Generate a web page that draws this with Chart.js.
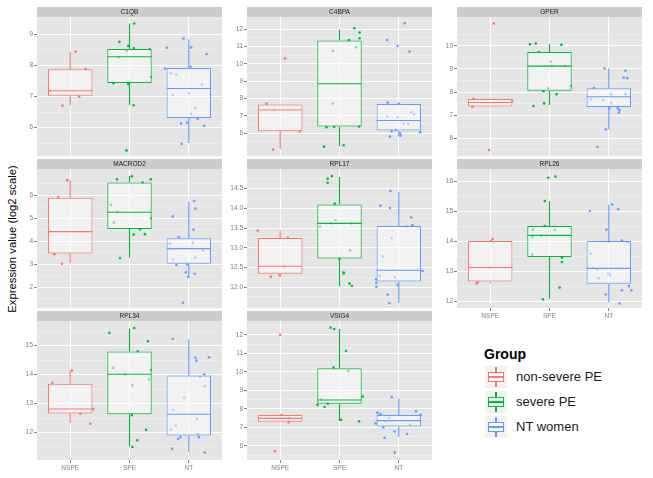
<!DOCTYPE html>
<html>
<head>
<meta charset="utf-8">
<script src="https://cdn.jsdelivr.net/npm/chart.js@4.4.0/dist/chart.umd.min.js"></script>
<style>
  html, body { margin: 0; padding: 0; background: #fff; width: 653px; height: 478px; overflow: hidden; font-family: "Liberation Sans", Arial, sans-serif; }
  canvas.panel { position: absolute; }
  #ylab { position: absolute; left: 12px; top: 239px; transform: translate(-50%, -50%) rotate(-90deg); font-size: 11.3px; white-space: nowrap; color: #000; }
  #legTitle { position: absolute; left: 484px; top: 346px; font-size: 14px; font-weight: bold; color: #000; }
  .key { position: absolute; width: 22px; height: 22px; background: #F2F2F2; }
  .key i { position: absolute; display: block; box-sizing: border-box; }
  .key .bx { left: 3px; top: 6px; width: 16px; height: 10px; border: 1.3px solid; background: #F8F8F8; }
  .key .md { left: 3px; top: 10.4px; width: 16px; height: 1.3px; }
  .key .wt { left: 10.4px; top: 1px; width: 1.3px; height: 5px; }
  .key .wb { left: 10.4px; top: 16px; width: 1.3px; height: 5px; }
  .legLabel { position: absolute; left: 516px; font-size: 13px; color: #1A1A1A; line-height: 22px; white-space: nowrap; }
</style>
</head>
<body>
<div id="ylab">Expression value (log2 scale)</div>
<div id="legTitle">Group</div>
<script>
const genes = ['C1QB', 'C4BPA', 'GPER', 'MACROD2', 'RPL17', 'RPL26', 'RPL34', 'VSIG4'];
const groups = ['NSPE', 'SPE', 'NT'];
const groupNames = ['non-severe PE', 'severe PE', 'NT women'];

// box stats per group: [lower whisker, q1, median, q3, upper whisker]
const c1qbBox = [[6.72, 7.03, 7.19, 7.88, 8.44], [6.72, 7.44, 8.28, 8.53, 9.35], [5.51, 6.31, 7.26, 7.92, 8.84]];
const c4bpaBox = [[5.08, 6.10, 7.33, 7.65, null], [5.23, 6.37, 8.85, 11.35, 12.0], [5.79, 6.14, 6.72, 7.68, 7.76]];
const gperBox = [[null, 7.38, 7.55, 7.70, null], [7.44, 8.06, 9.12, 9.73, 10.07], [6.39, 7.35, 7.80, 8.16, 9.02]];
const macrod2Box = [[3.03, 3.46, 4.41, 5.88, 6.64], [3.28, 4.52, 5.25, 6.54, 6.83], [2.45, 3.01, 3.67, 4.12, 5.71]];
const rpl17Box = [[12.26, 12.34, 12.53, 13.25, 13.44], [12.03, 12.73, 13.62, 14.10, 14.80], [11.60, 12.14, 12.43, 13.55, 14.42]];
const rpl26Box = [[12.60, 12.66, 13.13, 14.01, null], [12.09, 13.48, 14.20, 14.51, 15.34], [11.96, 12.59, 13.10, 14.01, 15.23]];
const rpl34Box = [[12.33, 12.66, 12.81, 13.68, 14.14], [11.52, 12.63, 14.01, 14.80, 15.59], [11.33, 11.90, 12.63, 13.97, 15.22]];
const vsig4Box = [[null, 7.30, 7.48, 7.66, null], [7.41, 8.27, 8.48, 10.20, 12.32], [6.48, 7.04, 7.36, 7.66, 8.55]];

// samples per group: [jitter, value]
const c1qbPts = [
  [[0.09, 8.45], [0.26, 7.89], [0.15, 7.00], [-0.13, 6.71], [-0.34, 7.19]],
  [[0.08, 9.35], [-0.17, 8.76], [-0.02, 8.63], [-0.05, 8.47], [0.07, 8.55], [0.34, 8.52], [-0.18, 8.27], [0.36, 7.63], [-0.27, 7.43], [-0.02, 7.40], [0.07, 6.72], [-0.05, 5.27]],
  [[-0.09, 8.87], [-0.37, 8.57], [0.04, 8.58], [0.30, 8.37], [-0.40, 7.90], [-0.30, 7.75], [-0.21, 7.71], [0.22, 7.39], [-0.27, 7.05], [0.0, 7.11], [0.11, 6.63], [0.04, 6.45], [-0.13, 6.13], [-0.03, 6.16], [0.15, 6.29], [0.26, 6.06], [-0.12, 5.48], [0.03, 7.96]]
];
const c4bpaPts = [
  [[0.08, 10.31], [-0.23, 7.69], [-0.10, 7.33], [0.33, 6.10], [-0.12, 5.04]],
  [[0.25, 12.06], [0.34, 11.81], [0.34, 11.48], [0.16, 11.37], [-0.11, 10.75], [0.28, 10.96], [-0.11, 7.71], [-0.22, 6.33], [-0.09, 6.35], [0.33, 6.38], [-0.26, 5.21], [0.07, 5.29]],
  [[0.10, 12.35], [-0.20, 11.38], [-0.02, 11.04], [0.18, 10.71], [-0.19, 7.76], [0.0, 7.68], [-0.19, 6.95], [-0.02, 6.91], [0.21, 7.20], [0.26, 7.09], [0.08, 6.53], [0.16, 6.53], [0.36, 6.05], [-0.12, 6.10], [-0.05, 6.18], [0.02, 5.99], [0.03, 5.85], [-0.15, 5.79]]
];
const gperPts = [
  [[0.06, 10.96], [-0.28, 7.71], [-0.30, 7.37], [0.37, 7.63], [-0.02, 5.50]],
  [[-0.33, 10.06], [-0.23, 10.10], [0.20, 10.04], [-0.18, 9.73], [0.02, 9.32], [0.04, 9.12], [0.26, 9.11], [0.36, 8.26], [-0.02, 8.16], [-0.10, 8.04], [0.12, 7.91], [-0.09, 7.51], [-0.27, 7.40]],
  [[-0.07, 9.02], [0.28, 8.92], [0.25, 8.63], [0.31, 8.60], [-0.25, 8.17], [-0.30, 7.68], [-0.09, 7.65], [0.04, 7.91], [0.04, 7.51], [0.28, 7.91], [0.15, 7.30], [0.18, 7.22], [0.17, 7.11], [0.01, 7.30], [-0.05, 6.39], [-0.19, 5.63]]
];
const macrod2Pts = [
  [[-0.05, 6.64], [-0.20, 5.91], [0.16, 4.41], [-0.27, 3.43], [-0.14, 3.01]],
  [[-0.21, 6.68], [0.04, 6.81], [0.22, 6.54], [0.36, 6.68], [-0.31, 5.57], [-0.20, 5.26], [-0.26, 4.80], [0.36, 4.99], [0.18, 4.51], [0.07, 4.28], [0.26, 4.30], [-0.16, 3.26]],
  [[0.09, 5.74], [0.11, 5.41], [-0.27, 5.07], [0.08, 4.49], [-0.17, 4.17], [-0.32, 3.88], [0.07, 3.93], [-0.31, 3.67], [0.24, 3.59], [-0.27, 3.20], [0.11, 3.28], [-0.21, 2.96], [-0.03, 2.99], [-0.05, 2.64], [-0.01, 2.45], [0.10, 2.58], [-0.10, 1.32]]
];
const rpl17Pts = [
  [[-0.38, 13.44], [0.13, 13.25], [0.07, 12.52], [-0.01, 12.30], [-0.16, 12.26]],
  [[-0.13, 14.82], [-0.20, 14.75], [-0.20, 14.65], [-0.08, 14.12], [-0.33, 13.54], [-0.07, 13.70], [-0.14, 13.62], [0.20, 13.62], [0.18, 12.93], [0.0, 12.72], [0.07, 12.37], [0.07, 12.35], [0.17, 12.09], [0.21, 12.03]],
  [[-0.14, 14.44], [-0.31, 14.07], [-0.15, 14.01], [0.21, 13.77], [0.23, 13.57], [0.13, 13.54], [-0.12, 13.24], [-0.27, 12.78], [-0.07, 12.25], [-0.32, 12.28], [-0.38, 12.20], [-0.38, 12.11], [-0.38, 12.01], [-0.02, 12.06], [0.40, 12.41], [-0.19, 11.81], [-0.16, 11.59]]
];
const rpl26Pts = [
  [[0.04, 14.08], [0.01, 14.01], [-0.23, 12.60], [-0.21, 12.64], [-0.01, 13.13]],
  [[-0.02, 16.12], [0.10, 16.16], [-0.08, 15.34], [-0.08, 14.51], [-0.28, 14.39], [-0.29, 14.14], [-0.14, 14.20], [0.09, 14.38], [-0.29, 13.56], [0.21, 13.46], [0.21, 13.31], [0.17, 12.46], [-0.11, 12.07]],
  [[0.06, 15.23], [0.16, 15.07], [-0.32, 15.01], [-0.04, 14.39], [0.0, 13.99], [0.22, 14.03], [0.32, 13.96], [-0.30, 13.59], [-0.26, 13.12], [-0.19, 13.07], [-0.01, 12.93], [0.02, 12.88], [-0.17, 12.77], [0.34, 12.51], [0.38, 12.37], [0.22, 12.37], [-0.05, 12.23], [0.18, 11.93]]
];
const rpl34Pts = [
  [[0.03, 14.14], [-0.30, 13.72], [0.17, 12.65], [0.39, 12.81], [0.34, 12.30]],
  [[-0.34, 15.44], [0.08, 15.61], [0.31, 15.15], [0.14, 14.80], [-0.28, 14.23], [-0.08, 14.01], [0.36, 14.16], [0.33, 13.83], [0.05, 13.63], [0.04, 12.60], [0.28, 12.09], [0.13, 11.73], [0.05, 11.50]],
  [[-0.27, 15.23], [0.11, 14.59], [0.13, 14.48], [0.34, 14.60], [0.26, 14.01], [0.19, 13.92], [0.27, 13.60], [-0.08, 13.20], [-0.26, 12.78], [-0.22, 12.24], [0.14, 12.47], [-0.30, 12.09], [-0.18, 11.78], [-0.14, 11.84], [0.17, 11.84], [0.15, 11.95], [-0.28, 11.44], [0.27, 11.31]]
];
const vsig4Pts = [
  [[0.0, 12.00], [0.02, 7.66], [0.15, 7.48], [0.14, 7.27], [-0.09, 5.71]],
  [[-0.15, 12.39], [-0.09, 12.32], [0.11, 11.13], [-0.10, 10.23], [0.15, 10.05], [-0.31, 8.50], [-0.37, 8.21], [-0.20, 8.27], [-0.25, 8.10], [0.39, 8.66], [0.01, 7.41], [0.03, 7.41], [0.33, 7.32]],
  [[-0.12, 8.64], [-0.36, 7.79], [-0.31, 7.71], [0.29, 7.87], [0.37, 7.68], [-0.16, 7.50], [-0.23, 7.32], [-0.39, 7.21], [0.19, 7.14], [-0.26, 7.00], [-0.07, 6.77], [0.14, 6.64], [-0.24, 6.43], [-0.07, 5.63]]
];

// y tick labels and visible range per panel
const c1qbTicks = ['6', '7', '8', '9'];
const c4bpaTicks = ['6', '7', '8', '9', '10', '11', '12'];
const gperTicks = ['6', '7', '8', '9', '10'];
const macrod2Ticks = ['2', '3', '4', '5', '6'];
const rpl17Ticks = ['12.0', '12.5', '13.0', '13.5', '14.0', '14.5'];
const rpl26Ticks = ['12', '13', '14', '15', '16'];
const rpl34Ticks = ['12', '13', '14', '15'];
const vsig4Ticks = ['6', '7', '8', '9', '10', '11', '12'];
const yRanges = [[5.09, 9.56], [4.67, 12.71], [5.24, 11.24], [1.09, 7.13], [11.47, 15.0], [11.78, 16.41], [11.05, 15.85], [5.23, 12.75]];

const boxes = [c1qbBox, c4bpaBox, gperBox, macrod2Box, rpl17Box, rpl26Box, rpl34Box, vsig4Box];
const points = [c1qbPts, c4bpaPts, gperPts, macrod2Pts, rpl17Pts, rpl26Pts, rpl34Pts, vsig4Pts];
const yTicks = [c1qbTicks, c4bpaTicks, gperTicks, macrod2Ticks, rpl17Ticks, rpl26Ticks, rpl34Ticks, vsig4Ticks];

const colors = ['#F8766D', '#00BA38', '#619CFF'];
const colLeft = [37, 247, 457];
const rowTop = [7, 159, 311];
const axisW = 22, panelW = 189, stripH = 10, plotH = 139;

Chart.defaults.font.family = '"Liberation Sans", Arial, sans-serif';

const panelBg = {
    id: 'panelBg',
    beforeDraw(chart) {
        const ctx = chart.ctx;
        const a = chart.chartArea;
        ctx.save();
        ctx.fillStyle = '#E5E5E5';
        ctx.fillRect(a.left, a.top, a.right - a.left, a.bottom - a.top);
        const t = chart.titleBlock;
        if (t) {
            ctx.fillStyle = '#CCCCCC';
            ctx.fillRect(a.left, t.top, a.right - a.left, t.bottom - t.top);
        }
        ctx.restore();
    }
};

function makePanel(i) {
    const row = Math.floor(i / 3), col = i % 3;
    const bottom = i >= 5;
    const xh = bottom ? 14 : 5;
    const canvas = document.createElement('canvas');
    canvas.className = 'panel';
    canvas.width = axisW + panelW;
    canvas.height = stripH + plotH + xh;
    canvas.style.left = (colLeft[col] - axisW) + 'px';
    canvas.style.top = rowTop[row] + 'px';
    document.body.appendChild(canvas);

    const box = boxes[i];
    const pts = points[i];
    const labels = yTicks[i];
    const range = yRanges[i];
    const major = labels.map(parseFloat);
    const step = major[1] - major[0];
    const minor = [];
    for (let v = major[0] - step / 2; v < range[1]; v += step) {
        if (v > range[0]) minor.push(v);
    }
    const isMajor = v => major.some(m => Math.abs(m - v) < 1e-6);

    const datasets = [];
    groups.forEach((g, k) => {
        datasets.push({
            type: 'scatter',
            data: pts[k].map(p => ({ x: k + 1 + p[0], y: p[1] })),
            backgroundColor: colors[k],
            pointRadius: 1.3,
            pointBorderWidth: 0,
            order: 3
        });
    });
    datasets.push({
        type: 'bar',
        data: box.map((b, k) => ({ x: k + 1, y: [b[1], b[3]] })),
        backgroundColor: 'rgba(255,255,255,0.5)',
        borderColor: colors,
        borderWidth: 1,
        borderSkipped: false,
        barPercentage: 0.75,
        categoryPercentage: 1,
        order: 2
    });
    groups.forEach((g, k) => {
        const b = box[k], c = k + 1;
        const d = [];
        if (b[4] != null) d.push({ x: c, y: b[4] }, { x: c, y: b[3] }, { x: c, y: null });
        if (b[0] != null) d.push({ x: c, y: b[1] }, { x: c, y: b[0] }, { x: c, y: null });
        d.push({ x: c - 0.375, y: b[2] }, { x: c + 0.375, y: b[2] });
        datasets.push({
            type: 'line',
            data: d,
            borderColor: colors[k],
            borderWidth: 1.1,
            pointRadius: 0,
            fill: false,
            spanGaps: false,
            order: 1
        });
    });

    new Chart(canvas, {
        type: 'scatter',
        data: { datasets: datasets },
        plugins: [panelBg],
        options: {
            responsive: false,
            animation: false,
            layout: { padding: 0 },
            plugins: {
                legend: { display: false },
                tooltip: { enabled: false },
                title: {
                    display: true,
                    text: genes[i],
                    fullSize: false,
                    padding: 0,
                    color: '#1A1A1A',
                    font: { size: 6.5, weight: 'normal', lineHeight: stripH / 6.5 }
                }
            },
            scales: {
                x: {
                    type: 'linear',
                    min: 0.44,
                    max: 3.56,
                    offset: false,
                    afterBuildTicks: s => { s.ticks = [1, 2, 3].map(v => ({ value: v })); },
                    afterFit: s => { s.height = xh; },
                    ticks: {
                        display: bottom,
                        autoSkip: false,
                        maxRotation: 0,
                        padding: 1,
                        color: '#7F7F7F',
                        font: { size: 6.5 },
                        callback: v => groups[Math.round(v) - 1]
                    },
                    grid: { offset: false, color: '#FFFFFF', lineWidth: 1, drawTicks: bottom, tickLength: 3, tickColor: '#7F7F7F' },
                    border: { display: false }
                },
                y: {
                    type: 'linear',
                    min: range[0],
                    max: range[1],
                    afterBuildTicks: s => { s.ticks = major.concat(minor).sort((a, b) => a - b).map(v => ({ value: v })); },
                    afterFit: s => { s.width = axisW; },
                    ticks: {
                        autoSkip: false,
                        padding: 1,
                        color: '#7F7F7F',
                        font: { size: 6.5 },
                        callback: v => {
                            const j = major.findIndex(m => Math.abs(m - v) < 1e-6);
                            return j >= 0 ? labels[j] : '';
                        }
                    },
                    grid: {
                        color: c => (c.tick && isMajor(c.tick.value)) ? '#FFFFFF' : '#F2F2F2',
                        lineWidth: c => (c.tick && isMajor(c.tick.value)) ? 1 : 0.6,
                        tickColor: c => (c.tick && isMajor(c.tick.value)) ? '#7F7F7F' : 'rgba(0,0,0,0)',
                        tickLength: 3
                    },
                    border: { display: false }
                }
            }
        }
    });
}

genes.forEach((g, i) => makePanel(i));

// legend
const keyTop = [366, 391, 416];
groupNames.forEach((name, k) => {
    const key = document.createElement('div');
    key.className = 'key';
    key.style.left = '485px';
    key.style.top = keyTop[k] + 'px';
    key.innerHTML = '<i class="wt"></i><i class="wb"></i><i class="bx"></i><i class="md"></i>';
    key.querySelector('.bx').style.borderColor = colors[k];
    key.querySelector('.wt').style.background = colors[k];
    key.querySelector('.wb').style.background = colors[k];
    key.querySelector('.md').style.background = colors[k];
    document.body.appendChild(key);
    const lab = document.createElement('div');
    lab.className = 'legLabel';
    lab.style.top = keyTop[k] + 'px';
    lab.textContent = name;
    document.body.appendChild(lab);
});
</script>
</body>
</html>
